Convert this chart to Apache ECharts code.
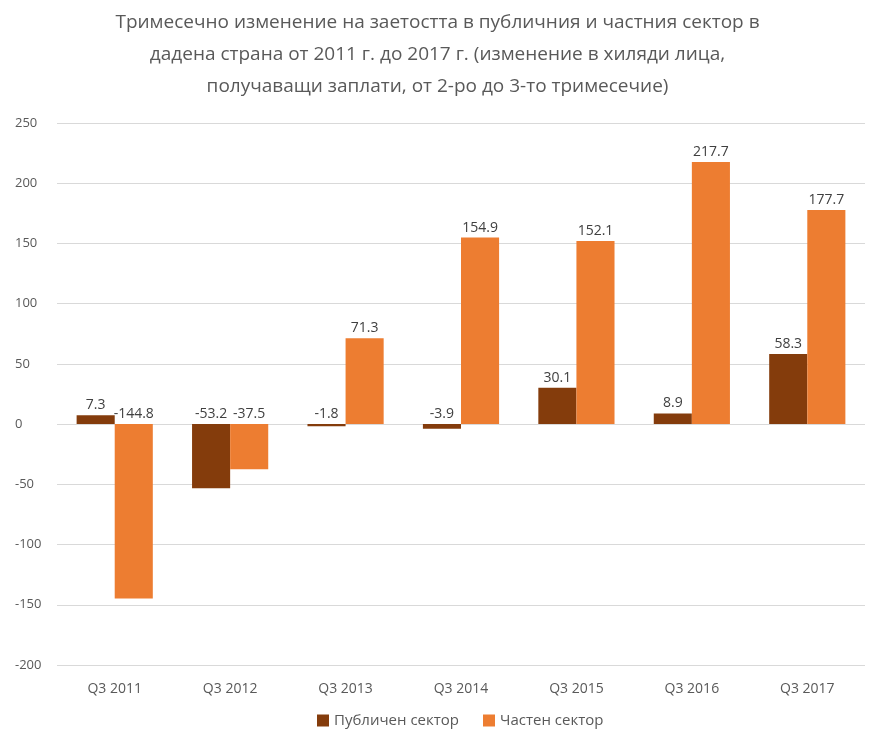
<!DOCTYPE html>
<html>
<head>
<meta charset="utf-8">
<script src="https://cdn.jsdelivr.net/npm/echarts@6/dist/echarts.min.js"></script>
<style>
  html, body { margin: 0; padding: 0; background: #fff; }
  #chart { width: 875px; height: 739px; }
</style>
</head>
<body>
<div id="chart"></div>
<script>
// Quarterly change in employment (thousands of wage earners, Q2 -> Q3)
const categories = ['Q3 2011', 'Q3 2012', 'Q3 2013', 'Q3 2014', 'Q3 2015', 'Q3 2016', 'Q3 2017'];
const publicSector = [7.3, -53.2, -1.8, -3.9, 30.1, 8.9, 58.3];
const privateSector = [-144.8, -37.5, 71.3, 154.9, 152.1, 217.7, 177.7];
const seriesNames = ['Публичен сектор', 'Частен сектор'];
const yTicks = { min: -200, max: 250, step: 50 };

const font = 'Open Sans, Noto Sans, sans-serif';

const chart = echarts.init(document.getElementById('chart'));
chart.setOption({
  animation: false,
  backgroundColor: '#fff',
  title: {
    text: 'Тримесечно изменение на заетостта в публичния и частния сектор в\nдадена страна от 2011 г. до 2017 г. (изменение в хиляди лица,\nполучаващи заплати, от 2-ро до 3-то тримесечие)',
    left: 'center',
    top: 2,
    textStyle: {
      fontFamily: font,
      fontSize: 19,
      fontWeight: 'normal',
      color: '#595959',
      lineHeight: 32
    }
  },
  legend: {
    bottom: 6,
    left: 312,
    itemWidth: 12,
    itemHeight: 12,
    itemGap: 24,
    icon: 'rect',
    textStyle: { fontFamily: font, fontSize: 15, color: '#595959' },
    data: seriesNames
  },
  grid: { left: 57, right: 10, top: 123, bottom: 74, containLabel: false },
  xAxis: {
    type: 'category',
    data: categories,
    axisLine: { show: false },
    axisTick: { show: false },
    axisLabel: { fontFamily: font, fontSize: 14, color: '#595959', margin: 17 },
    splitLine: { show: false }
  },
  yAxis: {
    type: 'value',
    min: yTicks.min,
    max: yTicks.max,
    interval: yTicks.step,
    axisLine: { show: false },
    axisTick: { show: false },
    axisLabel: { fontFamily: font, fontSize: 13, color: '#595959', margin: 42, align: 'left' },
    splitLine: { lineStyle: { color: '#d9d9d9', width: 1 } }
  },
  series: [
    {
      name: seriesNames[0],
      type: 'bar',
      data: publicSector,
      itemStyle: { color: '#843c0c' },
      barGap: '0%',
      barCategoryGap: '34%',
      label: { show: true, position: 'top', distance: 3, fontFamily: font, fontSize: 14, color: '#404040' }
    },
    {
      name: seriesNames[1],
      type: 'bar',
      data: privateSector,
      itemStyle: { color: '#ed7d31' },
      barGap: '0%',
      barCategoryGap: '34%',
      label: { show: true, position: 'top', distance: 3, fontFamily: font, fontSize: 14, color: '#404040' }
    }
  ]
});
</script>
</body>
</html>
